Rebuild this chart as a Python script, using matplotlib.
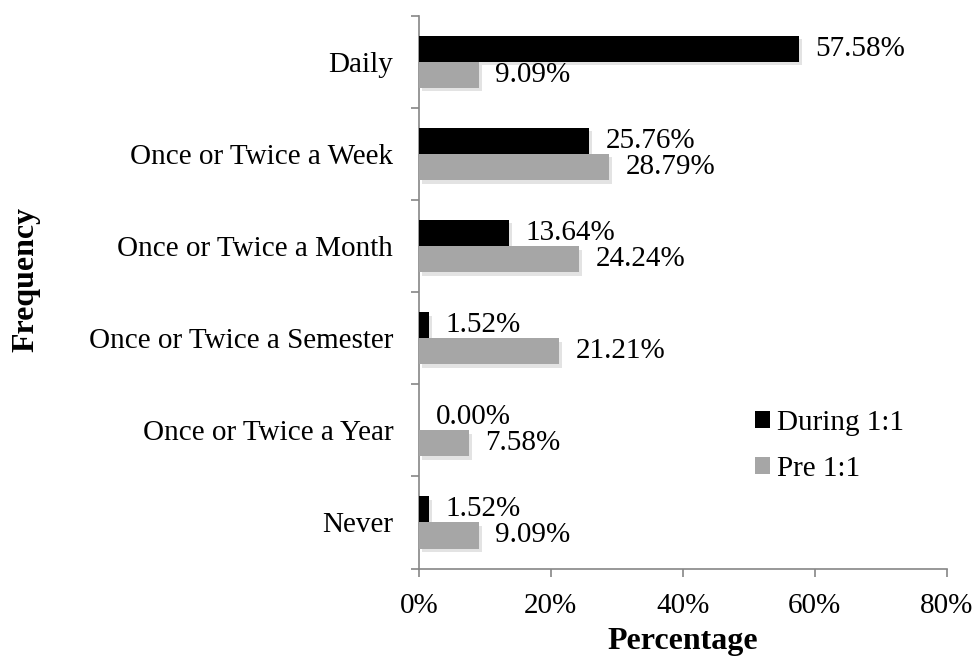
import matplotlib
matplotlib.use("Agg")
import matplotlib.pyplot as plt
import matplotlib.patheffects as pe
from matplotlib.patches import Patch
import numpy as np

categories = [
    "Daily",
    "Once or Twice a Week",
    "Once or Twice a Month",
    "Once or Twice a Semester",
    "Once or Twice a Year",
    "Never",
]
during = [57.58, 25.76, 13.64, 1.52, 0.00, 1.52]
pre = [9.09, 28.79, 24.24, 21.21, 7.58, 9.09]
x_ticks = [0, 20, 40, 60, 80]

plt.rcParams["font.family"] = ["Liberation Serif", "DejaVu Serif"]

fig = plt.figure(figsize=(9.74, 6.58), dpi=100)
ax = fig.add_axes([0.430, 0.136, 0.542, 0.840])

n = len(categories)
ypos = np.arange(n)[::-1]
h = 0.283
shadow = [pe.SimplePatchShadow(offset=(2.5, -2.5), shadow_rgbFace="0.82", alpha=0.6), pe.Normal()]

ax.barh(ypos + h / 2, during, height=h, color="black", path_effects=shadow, zorder=3)
ax.barh(ypos - h / 2, pre, height=h, color="#a6a6a6", path_effects=shadow, zorder=3)

for y, v in zip(ypos, during):
    ax.annotate(f"{v:.2f}%", (v, y + h / 2), xytext=(12, 0), textcoords="offset points",
                va="center", ha="left", fontsize=21)
for y, v in zip(ypos, pre):
    ax.annotate(f"{v:.2f}%", (v, y - h / 2), xytext=(12, 0), textcoords="offset points",
                va="center", ha="left", fontsize=21)

ax.set_xlim(0, 80)
ax.set_ylim(-0.5, n - 0.5)
ax.set_xticks(x_ticks)
ax.set_xticklabels([f"{t}%" for t in x_ticks])
ax.set_yticks(ypos)
ax.set_yticklabels(categories)
ax.set_yticks(np.arange(-0.5, n, 1.0), minor=True)

ax.tick_params(axis="y", which="major", length=0, pad=18.5, labelsize=21)
ax.tick_params(axis="y", which="minor", length=6, width=1.2, color="#868686", direction="out")
ax.tick_params(axis="x", which="major", length=6, width=1.2, color="#868686", direction="out",
               pad=11.5, labelsize=21)

for s in ["top", "right"]:
    ax.spines[s].set_visible(False)
for s in ["left", "bottom"]:
    ax.spines[s].set_color("#868686")
    ax.spines[s].set_linewidth(1.2)

# baseline kept a little above the edge so the descender of "g" stays inside
fig.text(0.701, 0.013, "Percentage", fontsize=23, fontweight="bold",
         ha="center", va="baseline")
fig.text(0.027, 0.576, "Frequency", rotation=90, fontsize=23, fontweight="bold",
         ha="center", va="center")

handles = [Patch(facecolor="black", label="During 1:1"),
           Patch(facecolor="#a6a6a6", label="Pre 1:1")]
ax.legend(handles=handles, loc="center left", bbox_to_anchor=(0.636, 0.222), frameon=False,
          fontsize=21, handlelength=0.52, handleheight=0.52, handletextpad=0.25,
          labelspacing=0.7, borderpad=0, borderaxespad=0)

fig.savefig("out.png", dpi=100)
